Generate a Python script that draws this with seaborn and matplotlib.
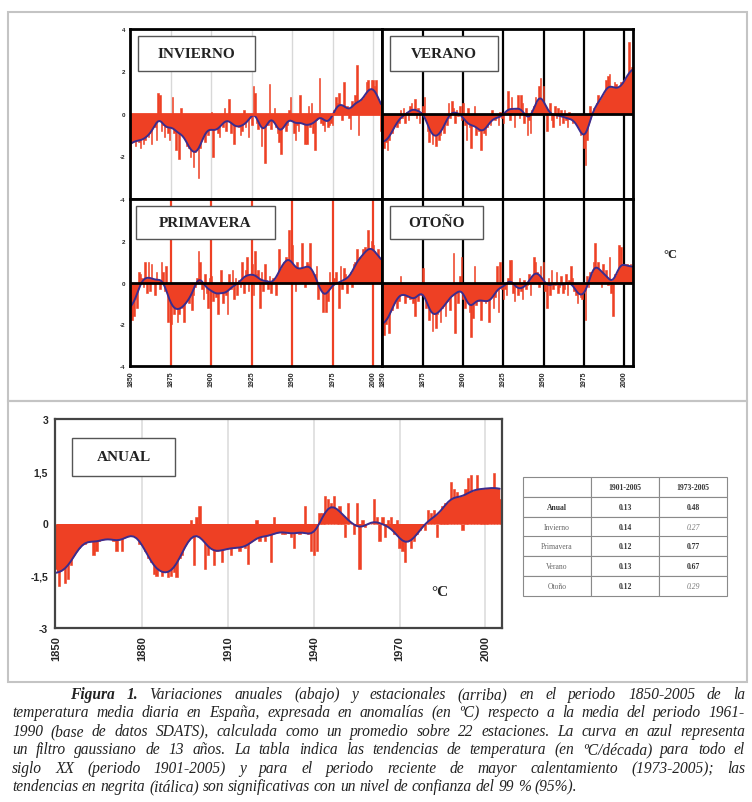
import numpy as np
import pandas as pd
import seaborn as sns
import matplotlib
matplotlib.use("Agg")
import matplotlib.pyplot as plt
from matplotlib.patches import Rectangle

sns.set_theme(style="white")
plt.rcParams['font.family'] = ['Liberation Serif', 'DejaVu Serif']

years = np.arange(1850, 2006)

# anomalias (ºC) respecto a 1961-1990
anual = [
    -1.3, -1.8, -1.0, -1.7, -1.6, -1.2, -0.8, -0.6, -0.7, -0.5,
    -0.6, 0.0, -0.4, -0.9, -0.8, -0.5, -0.3, -0.4, -0.3, -0.3,
    -0.5, -0.8, -0.4, -0.8, -0.4, -0.2, -0.3, -0.1, 0.0, -0.6,
    -0.4, -0.8, -1.0, -1.1, -1.45, -1.5, -1.3, -1.5, -1.4, -1.55,
    -1.5, -1.4, -1.55, -1.0, -0.9, -0.5, -0.2, 0.1, -1.2, 0.2,
    0.5, -0.2, -1.3, -0.9, -0.5, -1.2, -0.8, -0.6, -1.1, -0.5,
    -0.6, -0.9, -0.7, -0.5, -0.8, -0.6, -0.7, -1.15, -0.5, -0.4,
    0.1, -0.5, -0.3, -0.5, -0.2, -1.1, 0.2, -0.1, -0.2, -0.3,
    -0.3, 0.0, -0.4, -0.7, -0.2, -0.3, -0.2, 0.5, -0.3, -0.8,
    -0.9, -0.8, 0.3, 0.3, 0.8, 0.7, 0.6, 0.8, 0.4, 0.5,
    0.2, -0.4, 0.6, 0.0, -0.3, 0.6, -1.3, 0.1, -0.1, 0.0,
    0.0, 0.7, 0.2, -0.5, 0.2, -0.4, 0.1, 0.2, -0.3, 0.1,
    -0.7, -0.8, -1.1, -0.3, -0.7, -0.5, -0.3, -0.2, 0.0, -0.2,
    0.4, 0.3, 0.4, -0.4, 0.2, 0.5, 0.6, 0.5, 1.2, 1.0,
    0.9, 0.7, -0.2, 1.0, 1.3, 1.4, 0.2, 1.4, 1.0, 1.0,
    0.9, 0.9, 1.0, 1.45, 1.0, 0.7,
]
invierno = [
    -2.1, -1.0, -1.2, -1.5, -0.8, -1.3, -1.6, -1.0, -1.4, -1.2,
    -0.9, -1.1, -0.7, -1.4, -0.5, -0.6, -1.2, 1.0, 0.9, -0.8,
    -0.5, -1.1, -0.6, -0.9, -1.2, -0.3, 0.8, -0.9, -1.7, -0.6,
    -2.1, 0.3, -0.8, -1.0, -1.2, -1.5, -1.6, -2.0, -1.4, -2.5,
    -1.8, -1.3, -3.0, -1.6, -0.9, -0.6, -1.3, -0.2, -1.0, -0.4,
    0.1, -2.0, -0.7, -0.4, -0.9, -1.1, -0.3, -0.6, 0.3, -0.8,
    -0.2, 0.7, -0.9, -0.3, -1.4, -0.2, -0.5, -0.6, -1.0, -0.8,
    0.2, -0.6, -0.3, -1.1, -0.1, -0.5, 1.3, 1.0, -0.4, -0.7,
    -0.2, -1.5, -0.6, -2.3, -0.3, -0.5, 1.4, -0.7, -0.1, 0.3,
    -0.6, -0.9, -1.3, -1.9, -0.4, -0.2, -0.8, -0.5, 0.2, 0.8,
    -0.3, -0.9, -1.2, -0.5, -0.8, 0.9, -0.2, -0.4, -1.4, -1.4,
    0.4, -0.6, 0.5, -0.9, -1.7, -0.3, -0.1, 1.7, -0.4, -0.5,
    -0.8, -0.2, -0.6, -0.5, -0.4, -0.5, 0.2, 0.8, 0.5, 1.0,
    0.3, -0.3, 1.5, 0.1, 0.4, -0.2, -0.7, 0.6, 0.2, 0.9,
    2.3, -1.0, 0.4, 0.7, 0.5, 0.8, 1.5, 1.6, 0.4, 1.6,
    1.6, 1.3, 1.6, 0.6, 0.3, -0.8,
]
verano = [
    -1.0, -1.6, -1.3, -1.7, -1.2, -0.8, -0.9, -0.5, -0.3, -0.6,
    -0.4, 0.2, -0.2, 0.3, -0.4, 0.1, -0.3, 0.4, 0.5, 0.2,
    0.7, -0.2, 0.3, -0.4, 0.1, 0.4, 0.8, -0.3, -0.8, -1.3,
    -0.6, -1.4, -1.0, -1.5, -0.8, -1.2, -1.0, -0.6, -0.9, -0.3,
    -0.5, 0.5, -0.2, 0.6, 0.3, -0.4, 0.2, -0.1, 0.4, -0.3,
    0.5, -0.5, -1.2, 0.3, -0.6, -1.6, -0.2, 0.4, -1.0, -0.4,
    -0.8, -1.7, -0.4, -0.9, -1.0, -0.6, -0.3, -0.5, 0.2, -0.2,
    -0.3, 0.0, -0.5, 0.1, -0.2, -0.4, 0.0, 0.2, 1.1, -0.3,
    0.8, 0.2, -0.6, 0.3, 0.9, -0.2, 0.9, 0.5, -0.4, 0.3,
    -1.0, -0.3, -0.9, 0.2, 0.4, 0.8, 0.2, 1.3, 1.7, 0.6,
    1.3, 0.4, -0.8, 0.2, 0.5, -0.3, -0.6, 0.4, -0.2, 0.3,
    -0.5, 0.2, -0.4, 0.2, -0.3, -0.6, 0.1, -0.2, -0.4, 0.0,
    -0.3, -0.6, -0.5, -1.0, -0.7, -1.6, -2.4, -1.2, -0.4, 0.4,
    0.1, 0.3, 0.2, 0.5, 0.9, 0.4, 0.6, 0.7, 0.9, 1.6,
    1.8, 1.9, 0.7, 1.0, 1.5, 1.4, 1.0, 0.8, 1.5, 1.2,
    1.6, 1.4, 1.3, 3.4, 1.8, 2.2,
]
primavera = [
    -0.9, -1.8, -1.6, -0.8, -1.2, 0.5, 0.4, 0.2, -0.2, 1.0,
    -0.5, 1.0, -0.4, 0.9, 0.1, -0.6, 0.5, 0.0, -0.3, 1.0,
    0.5, -0.4, 0.8, -1.9, -0.3, -2.0, -0.8, -1.5, -1.0, -1.9,
    -1.5, -0.6, -1.2, -1.9, -0.9, -0.5, -1.0, -0.3, -1.3, -0.6,
    -0.2, 0.2, 1.5, 1.0, -0.3, -0.8, 0.4, -0.5, -1.2, 0.2,
    0.3, -0.9, -0.4, -0.7, -1.5, -0.2, 0.6, -1.0, -0.5, -0.6,
    -1.5, 0.4, -0.3, 0.6, -0.8, 0.2, -0.6, 0.1, -0.2, 1.0,
    -0.5, 0.6, 1.2, -0.4, 0.3, 0.9, -0.6, 1.5, 0.4, 0.6,
    -1.2, 0.5, -0.4, 0.9, 0.1, -0.3, 0.3, -0.5, 0.2, 0.0,
    -0.6, 0.4, 1.6, 0.2, 0.9, 1.0, 1.2, 0.7, 2.5, 0.4,
    1.8, 0.8, -0.4, 1.0, 0.1, 0.6, 1.9, 0.3, -0.2, 1.0,
    0.9, 1.9, 0.6, 0.2, 0.4, 0.8, -0.8, -0.2, 0.0, -1.4,
    -0.5, -1.4, -0.9, 0.5, 0.0, -0.6, 0.2, 0.5, 0.0, -1.2,
    0.8, -0.3, 0.7, 0.4, -0.5, 0.2, 0.5, -0.2, 0.9, 1.0,
    1.6, 0.8, 1.2, 0.9, 1.6, 1.7, 0.8, 2.5, 1.4, 2.0,
    1.8, 1.5, 1.2, 1.6, 0.9, 0.5,
]
otono = [
    -1.8, -2.5, -2.0, -1.6, -2.4, -1.1, -1.3, -0.8, -0.5, -1.2,
    -0.9, 0.3, -0.6, -0.4, -1.0, -0.7, -0.3, -0.8, -0.5, -1.0,
    -1.6, -0.4, -0.9, -0.2, -0.6, 0.7, -0.5, -1.2, -0.8, -1.8,
    -1.4, -2.3, -1.0, -2.2, -1.5, -0.8, -1.9, -1.2, -0.7, -1.6,
    -0.9, -0.4, -1.3, -0.6, 1.4, -2.4, -0.5, -1.0, 0.3, 1.2,
    -0.8, -1.2, -0.6, -0.9, -1.4, -2.6, -1.7, 0.8, -1.1, -0.5,
    -0.9, -1.8, -0.3, -0.5, -1.0, -0.8, -1.9, -0.6, -0.4, -1.2,
    -0.7, 0.8, -1.4, 1.0, -0.3, -0.8, -0.3, -0.6, 0.2, 1.1,
    1.1, -0.5, -0.9, -0.2, -0.6, 0.2, -0.4, -0.8, 0.1, -0.3,
    -0.1, 0.4, -0.6, 0.3, 1.2, 1.0, 0.5, -0.2, 0.8, 0.0,
    1.0, -0.4, -1.2, 0.2, -0.6, 0.6, -0.3, -0.1, 0.5, -0.5,
    -0.2, 0.3, -0.5, -0.3, 0.4, -0.6, 0.1, 0.8, 0.2, -0.4,
    -0.6, -1.0, -0.3, -0.7, -0.8, -0.4, -1.8, 0.3, -0.2, 0.5,
    0.3, 1.0, 1.9, 0.6, 1.0, 0.4, -0.2, 0.9, 0.3, 0.6,
    -0.1, 1.2, -0.5, -1.6, 0.4, 0.3, 0.2, 1.8, 1.7, 0.5,
    0.6, 0.8, 0.9, 0.7, 0.9, 0.6,
]

tabla_filas = ['Anual', 'Invierno', 'Primavera', 'Verano', 'Otoño']
tabla_cols = ['1901-2005', '1973-2005']
tend_1901 = ['0.13', '0.14', '0.12', '0.13', '0.12']
tend_1973 = ['0.48', '0.27', '0.77', '0.67', '0.29']

caption = [
    "Variaciones anuales (abajo) y estacionales (arriba) en el periodo 1850-2005 de la",
    "temperatura media diaria en España, expresada en anomalías (en ºC) respecto a la media del periodo 1961-",
    "1990 (base de datos SDATS), calculada como un promedio sobre 22 estaciones. La curva en azul representa",
    "un filtro gaussiano de 13 años. La tabla indica las tendencias de temperatura (en ºC/década) para todo el",
    "siglo XX (periodo 1901-2005) y para el periodo reciente de mayor calentamiento (1973-2005); las",
    "tendencias en negrita (itálica) son significativas con un nivel de confianza del 99 % (95%).",
]

RED = '#EE4024'
BLUE = '#3B2C8E'
W, H = 752, 803


def rect(x0, y0, x1, y1):
    return [x0 / W, 1 - y1 / H, (x1 - x0) / W, (y1 - y0) / H]


def gauss(v, sigma=2.8, half=9):
    v = np.asarray(v, float)
    k = np.arange(-half, half + 1)
    w = np.exp(-0.5 * (k / sigma) ** 2)
    out = np.empty_like(v)
    for i in range(len(v)):
        idx = i + k
        m = (idx >= 0) & (idx < len(v))
        out[i] = np.sum(v[idx[m]] * w[m]) / np.sum(w[m])
    return out


def draw_series(ax, vals, bar_w):
    sm = gauss(vals)
    ax.fill_between(years, 0, sm, color=RED, lw=0, zorder=2)
    sns.barplot(x=years, y=vals, native_scale=True, color=RED, saturation=1,
                width=bar_w, errorbar=None, linewidth=0.4, edgecolor=RED,
                ax=ax, zorder=2)
    sns.lineplot(x=years, y=sm, color=BLUE, lw=1.4, ax=ax, zorder=4)
    ax.set_xlabel('')
    ax.set_ylabel('')


def label_box(x0, y0, x1, y1, text, size):
    fig.add_artist(Rectangle((x0 / W, 1 - y1 / H), (x1 - x0) / W, (y1 - y0) / H,
                             transform=fig.transFigure, fc='white', ec='#555555',
                             lw=1.0, zorder=10))
    fig.text((x0 + x1) / 2 / W, 1 - (y0 + y1) / 2 / H, text, ha='center', va='center',
             fontsize=size, fontweight='bold', color='#222222', zorder=11)


fig = plt.figure(figsize=(7.52, 8.03), dpi=100)

# marcos grises
for (x0, y0, x1, y1) in [(8, 13, 747, 402), (8, 402, 747, 683)]:
    fig.add_artist(Rectangle((x0 / W, 1 - y1 / H), (x1 - x0) / W, (y1 - y0) / H,
                             transform=fig.transFigure, fill=False, ec='#c4c4c4', lw=1.5))

# paneles estacionales
panels = [
    (invierno, (130, 30, 382, 200), '#d8d8d8', 1.0, RED, True, False, [-4, -2, 0, 2, 4]),
    (verano, (382, 30, 633, 200), 'black', 1.6, 'black', False, False, [-4, -2, 0, 2, 4]),
    (primavera, (130, 200, 382, 367), RED, 1.6, 'black', True, True, [-4, -2, 0, 2]),
    (otono, (382, 200, 633, 367), 'black', 1.6, 'black', False, True, [-4, -2, 0, 2]),
]
for vals, r, gcol, glw, zcol, left, bottom, yt in panels:
    ax = fig.add_axes(rect(*r))
    draw_series(ax, vals, 1.0)
    ax.set_xlim(1849.6, 2005.6)
    ax.set_ylim(-4, 4)
    ax.set_xticks(range(1850, 2001, 25))
    ax.set_yticks(yt)
    for xv in range(1875, 2001, 25):
        ax.axvline(xv, color=gcol, lw=glw, zorder=1)
    ax.axhline(0, color=zcol, lw=2.0, zorder=5)
    ax.tick_params(axis='both', length=2, width=0.8, direction='out', pad=1.5)
    if left:
        ax.set_yticklabels([str(t) for t in yt], fontsize=4.5,
                           fontweight='bold', family='Liberation Sans')
    else:
        ax.set_yticklabels([])
    if bottom:
        ax.set_xticklabels([str(t) for t in range(1850, 2001, 25)], fontsize=5,
                           fontweight='bold', rotation=90, family='Liberation Sans')
    else:
        ax.set_xticklabels([])
    for s in ax.spines.values():
        s.set_color('black')
        s.set_linewidth(2.0)
        s.set_zorder(6)

label_box(138, 37, 255, 72, 'INVIERNO', 11)
label_box(390, 37, 498, 72, 'VERANO', 11)
label_box(136, 207, 275, 240, 'PRIMAVERA', 11)
label_box(390, 207, 483, 240, 'OTOÑO', 11)
fig.text(670 / W, 1 - 255 / H, '°C', ha='center', va='center', fontsize=9,
         fontweight='bold', color='#222222')

# panel anual
ax = fig.add_axes(rect(55, 420, 502, 629))
draw_series(ax, anual, 0.8)
ax.set_xlim(1849.5, 2005.8)
ax.set_ylim(-3, 3)
ax.set_xticks(range(1850, 2001, 30))
ax.set_xticklabels([str(t) for t in range(1850, 2001, 30)], rotation=90,
                   fontsize=8, fontweight='bold', family='Liberation Sans')
ax.set_yticks([-3, -1.5, 0, 1.5, 3])
ax.set_yticklabels(['-3', '-1,5', '0', '1,5', '3'], fontsize=7.5,
                   fontweight='bold', family='Liberation Sans')
for xv in range(1880, 2001, 30):
    ax.axvline(xv, color='#dddddd', lw=1.2, zorder=1)
ax.tick_params(axis='both', length=0, pad=5)
for s in ax.spines.values():
    s.set_color('#444444')
    s.set_linewidth(1.6)
label_box(72, 439, 175, 477, 'ANUAL', 11)
fig.text(440 / W, 1 - 593 / H, '°C', ha='center', va='center', fontsize=11,
         fontweight='bold', color='#222222')

# tabla de tendencias
axt = fig.add_axes(rect(523, 478, 727, 597))
axt.axis('off')
cells = [[''] + tabla_cols] + [[f, a, b] for f, a, b in zip(tabla_filas, tend_1901, tend_1973)]
tbl = axt.table(cellText=cells, bbox=[0, 0, 1, 1], cellLoc='center')
tbl.auto_set_font_size(False)
for (r, c), cell in tbl.get_celld().items():
    cell.set_edgecolor('#8a8a8a')
    cell.set_linewidth(0.8)
    t = cell.get_text()
    t.set_fontsize(5.5)
    t.set_color('#333333')
    t.set_family('Liberation Serif')
    if r == 0 or (r == 1) or c == 1:
        t.set_fontweight('bold')
    if c == 2 and r > 0:
        if tend_1973[r - 1] in ('0.27', '0.29'):
            t.set_fontstyle('italic')
            t.set_color('#777777')
        else:
            t.set_fontweight('bold')
    if c == 0 and r > 1:
        t.set_color('#666666')

# pie de figura justificado
renderer = fig.canvas.get_renderer()
x_left, x_right = 12, 745
y_base = [699, 717.5, 736, 754.5, 773, 791.5]


def word_width(txt, weight, fs):
    t = fig.text(0, 0, txt, fontsize=fs, style='italic', fontweight=weight)
    w = t.get_window_extent(renderer).width
    t.remove()
    return w


for i, line in enumerate(caption):
    words = [(w, 'normal') for w in line.split(' ')]
    x0 = x_left
    if i == 0:
        words = [('Figura', 'bold'), ('1.', 'bold')] + words
        x0 = 70
    fs = 11.2
    while True:
        space = word_width('a a', 'normal', fs) - word_width('aa', 'normal', fs)
        widths = [word_width(w, wt, fs) for w, wt in words]
        natural = sum(widths) + space * (len(words) - 1)
        if natural <= x_right - x0 or fs < 8:
            break
        fs -= 0.2
    if i < len(caption) - 1:
        gap = (x_right - x0 - sum(widths)) / (len(words) - 1)
    else:
        gap = space
    x = x0
    for (w, wt), ww in zip(words, widths):
        fig.text(x / W, 1 - y_base[i] / H, w, fontsize=fs, style='italic',
                 fontweight=wt, ha='left', va='baseline', color='#222222')
        x += ww + gap

fig.savefig('out.png', dpi=100)
